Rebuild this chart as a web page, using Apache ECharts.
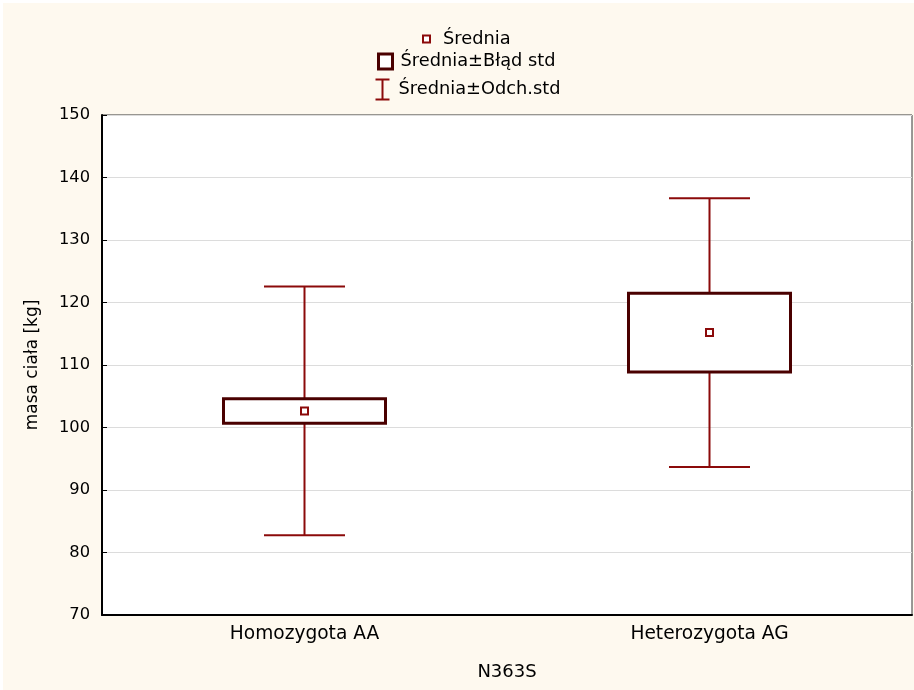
<!DOCTYPE html>
<html>
<head>
<meta charset="utf-8">
<script src="https://cdn.jsdelivr.net/npm/echarts@6/dist/echarts.min.js"></script>
<style>
  html, body { margin: 0; padding: 0; background: #ffffff; }
  #chart { width: 914px; height: 690px; }
</style>
</head>
<body>
<div id="chart"></div>
<script>
// Body mass by N363S genotype: mean, mean ± standard error, mean ± standard deviation
const categories = ['Homozygota AA', 'Heterozygota AG'];
const means = [102.65, 115.2];
const stdErrors = [1.95, 6.3];
const stdDevs = [19.9, 21.5];
const yTicks = { min: 70, max: 150, step: 10 };

const seriesNames = ['Średnia', 'Średnia±Błąd std', 'Średnia±Odch.std'];

const whiskerColor = '#8b0a0a';
const boxColor = '#4a0000';
const font = 'DejaVu Sans, sans-serif';

const whiskerData = categories.map((c, i) => [i, means[i] - stdDevs[i], means[i] + stdDevs[i]]);
const boxData = categories.map((c, i) => [i, means[i] - stdErrors[i], means[i] + stdErrors[i]]);
const meanData = categories.map((c, i) => [i, means[i]]);

function renderWhisker(params, api) {
  const i = api.value(0);
  const lo = api.coord([i, api.value(1)]);
  const hi = api.coord([i, api.value(2)]);
  const half = api.size([1, 0])[0] * 0.1;
  const style = { stroke: whiskerColor, lineWidth: 2 };
  return {
    type: 'group',
    children: [
      { type: 'line', shape: { x1: lo[0], y1: hi[1], x2: lo[0], y2: lo[1] }, style },
      { type: 'line', shape: { x1: lo[0] - half, y1: hi[1], x2: lo[0] + half, y2: hi[1] }, style },
      { type: 'line', shape: { x1: lo[0] - half, y1: lo[1], x2: lo[0] + half, y2: lo[1] }, style }
    ]
  };
}

function renderBox(params, api) {
  const i = api.value(0);
  const lo = api.coord([i, api.value(1)]);
  const hi = api.coord([i, api.value(2)]);
  const half = api.size([1, 0])[0] * 0.2;
  return {
    type: 'rect',
    shape: { x: lo[0] - half, y: hi[1], width: half * 2, height: lo[1] - hi[1] },
    style: { fill: '#ffffff', stroke: boxColor, lineWidth: 3 }
  };
}

function renderMean(params, api) {
  const p = api.coord([api.value(0), api.value(1)]);
  const s = 7;
  return {
    type: 'rect',
    shape: { x: p[0] - s / 2, y: p[1] - s / 2, width: s, height: s },
    style: { fill: '#ffffff', stroke: whiskerColor, lineWidth: 2 }
  };
}

const chart = echarts.init(document.getElementById('chart'), null, { renderer: 'canvas' });

const legendText = { fontFamily: font, fontSize: 17.8, color: '#000' };

chart.setOption({
  backgroundColor: '#fef9ef',
  animation: false,
  textStyle: { fontFamily: font },
  graphic: [
    { type: 'rect', left: 0, top: 0, shape: { width: 914, height: 3 }, style: { fill: '#ffffff' }, silent: true },
    { type: 'rect', left: 0, top: 0, shape: { width: 3, height: 690 }, style: { fill: '#ffffff' }, silent: true }
  ],
  legend: [
    {
      selectedMode: false, padding: 0, left: 422, top: 30, itemWidth: 7, itemHeight: 7,
      textStyle: Object.assign({ padding: [0, 0, 0, 8] }, legendText),
      data: [{ name: seriesNames[0], icon: 'rect',
        itemStyle: { color: '#ffffff', borderColor: whiskerColor, borderWidth: 2 } }]
    },
    {
      selectedMode: false, padding: 0, left: 377, top: 52.5, itemWidth: 14, itemHeight: 15,
      textStyle: Object.assign({ padding: [0, 0, 0, 3] }, legendText),
      data: [{ name: seriesNames[1], icon: 'rect',
        itemStyle: { color: '#ffffff', borderColor: boxColor, borderWidth: 3 } }]
    },
    {
      selectedMode: false, padding: 0, left: 373, top: 77, itemWidth: 14, itemHeight: 20,
      textStyle: Object.assign({ padding: [0, 0, 0, 4] }, legendText),
      data: [{ name: seriesNames[2], icon: 'path://M0,0 L14,0 M7,0 L7,20 M0,20 L14,20',
        itemStyle: { color: 'none', borderColor: whiskerColor, borderWidth: 2 } }]
    }
  ],
  grid: {
    left: 102, right: 2, top: 115, bottom: 75,
    show: true, backgroundColor: '#ffffff', borderColor: '#333', borderWidth: 1
  },
  xAxis: {
    type: 'category',
    data: categories,
    name: 'N363S',
    nameLocation: 'middle',
    nameGap: 48,
    nameTextStyle: { fontFamily: font, fontSize: 18, color: '#000' },
    axisLine: { lineStyle: { color: '#000', width: 2 } },
    axisTick: { inside: true, alignWithLabel: true, length: 7, lineStyle: { color: '#000' } },
    axisLabel: { fontFamily: font, fontSize: 18.6, color: '#000', margin: 10 },
    splitLine: { show: false }
  },
  yAxis: {
    type: 'value',
    min: yTicks.min,
    max: yTicks.max,
    interval: yTicks.step,
    name: 'masa ciała [kg]',
    nameLocation: 'middle',
    nameRotate: 90,
    nameGap: 61,
    nameTextStyle: { fontFamily: font, fontSize: 17, color: '#000' },
    axisLine: { show: true, lineStyle: { color: '#000', width: 2 } },
    axisTick: { show: true, inside: true, length: 5, lineStyle: { color: '#000' } },
    axisLabel: { fontFamily: font, fontSize: 16.3, color: '#000', margin: 12 },
    splitLine: { show: true, lineStyle: { color: '#dcdcdc', width: 1 } }
  },
  series: [
    {
      name: seriesNames[2], type: 'custom', renderItem: renderWhisker,
      encode: { x: 0, y: [1, 2] }, data: whiskerData, z: 2
    },
    {
      name: seriesNames[1], type: 'custom', renderItem: renderBox,
      encode: { x: 0, y: [1, 2] }, data: boxData, z: 3
    },
    {
      name: seriesNames[0], type: 'custom', renderItem: renderMean,
      encode: { x: 0, y: 1 }, data: meanData, z: 4
    }
  ]
});
</script>
</body>
</html>
